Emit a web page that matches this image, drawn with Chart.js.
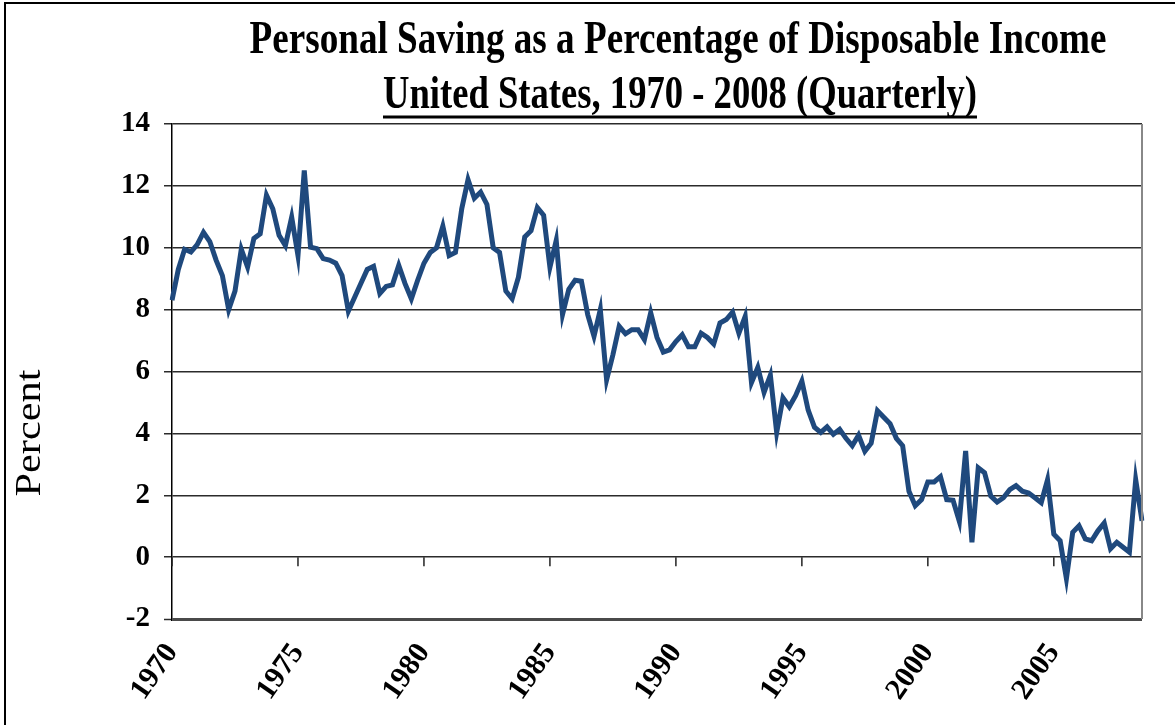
<!DOCTYPE html>
<html lang="en">
<head>
  <meta charset="UTF-8">
  <title>Personal Saving as a Percentage of Disposable Income</title>
  <style>
    body {
      margin: 0;
      padding: 0;
      background: #ffffff;
    }
    #wrap {
      width: 1175px;
      height: 725px;
    }
  </style>
  <script src="https://cdn.jsdelivr.net/npm/chart.js"></script>
</head>
<body>
  <div id="wrap">
    <canvas id="savingChart" width="1175" height="725"></canvas>
  </div>
  <script>
    // Personal saving rate, % of disposable income, 1970 Q1 - 2008 Q3
    const savingRate = [
      8.3, 9.3, 9.95, 9.86, 10.1, 10.5, 10.2, 9.6, 9.1, 8.0,
      8.6, 9.95, 9.38, 10.3, 10.45, 11.7, 11.26, 10.4, 10.07, 10.99,
      9.75, 12.5, 10.02, 9.97, 9.65, 9.6, 9.5, 9.1, 7.95, 8.4,
      8.85, 9.3, 9.4, 8.52, 8.75, 8.8, 9.43, 8.84, 8.35, 8.95,
      9.5, 9.85, 10.0, 10.7, 9.75, 9.85, 11.26, 12.2, 11.6, 11.8,
      11.4, 10.0, 9.85, 8.6, 8.35, 9.05, 10.35, 10.55, 11.3, 11.05,
      9.37, 10.24, 7.84, 8.66, 8.95, 8.92, 7.84, 7.14, 8.0, 5.73,
      6.54, 7.46, 7.22, 7.35, 7.35, 7.03, 7.9, 7.1, 6.63, 6.7,
      6.97, 7.19, 6.8, 6.8, 7.24, 7.1, 6.89, 7.57, 7.68, 7.92,
      7.24, 7.78, 5.64, 6.13, 5.33, 5.88, 4.03, 5.15, 4.86, 5.22,
      5.69, 4.75, 4.2, 4.03, 4.21, 3.97, 4.13, 3.84, 3.6, 3.94,
      3.42, 3.68, 4.73, 4.52, 4.31, 3.84, 3.6, 2.13, 1.66, 1.86,
      2.43, 2.43, 2.6, 1.86, 1.84, 1.16, 3.43, 0.48, 2.89, 2.73,
      1.97, 1.78, 1.92, 2.18, 2.31, 2.13, 2.07, 1.92, 1.76, 2.5,
      0.74, 0.53, -0.69, 0.8, 1.01, 0.59, 0.53, 0.85, 1.1, 0.27,
      0.48, 0.32, 0.16, 2.5, 1.17
    ];

    const tickYears = ['1970', '1975', '1980', '1985', '1990', '1995', '2000', '2005'];
    const yTicks = [-2, 0, 2, 4, 6, 8, 10, 12, 14];

    // quarter categories, one per value
    const quarters = [];
    for (let y = 1970; y <= 2008; y++) {
      for (let q = 1; q <= 4; q++) quarters.push(y + ' Q' + q);
    }
    const labels = quarters.slice(0, savingRate.length);

    const titleLine1 = 'Personal Saving as a Percentage of Disposable Income';
    const titleLine2 = 'United States, 1970 - 2008 (Quarterly)';
    const yTitle = 'Percent';

    // draws stretched text so that it spans a given width and cap height
    function stretchedText(ctx, text, font, cx, baseline, width, capH) {
      ctx.save();
      ctx.font = font;
      const w = ctx.measureText(text).width;
      const size = parseFloat(font.match(/(\d+)px/)[1]);
      ctx.translate(cx, baseline);
      ctx.scale(width / w, capH / (size * 0.66));
      ctx.textAlign = 'center';
      ctx.textBaseline = 'alphabetic';
      ctx.fillStyle = '#000';
      ctx.fillText(text, 0, 0);
      ctx.restore();
    }

    const decor = {
      id: 'decor',
      beforeDraw(chart) {
        const ctx = chart.ctx;
        ctx.save();
        ctx.fillStyle = '#fff';
        ctx.fillRect(0, 0, chart.width, chart.height);
        // outer frame (top and left edges)
        ctx.strokeStyle = '#000';
        ctx.lineWidth = 2;
        ctx.beginPath();
        ctx.moveTo(5, chart.height);
        ctx.lineTo(5, 3);
        ctx.lineTo(chart.width, 3);
        ctx.stroke();
        ctx.restore();
      },
      afterDraw(chart) {
        const ctx = chart.ctx;
        const area = chart.chartArea;
        const x = chart.scales.x;
        const y = chart.scales.y;

        stretchedText(ctx, titleLine1, 'bold 32px "Liberation Serif"', 678, 53, 857, 31);
        stretchedText(ctx, titleLine2, 'bold 32px "Liberation Serif"', 680, 108, 594, 30);
        ctx.save();
        ctx.strokeStyle = '#000';
        ctx.lineWidth = 3;
        ctx.beginPath();
        ctx.moveTo(383, 117);
        ctx.lineTo(977, 117);
        ctx.stroke();
        ctx.restore();

        // rotated axis title
        ctx.save();
        ctx.font = '30px "Liberation Serif"';
        const pw = ctx.measureText(yTitle).width;
        ctx.translate(40, 433);
        ctx.rotate(-Math.PI / 2);
        ctx.scale(127 / pw, 23 / (30 * 0.66));
        ctx.textAlign = 'center';
        ctx.fillStyle = '#000';
        ctx.fillText(yTitle, 0, 0);
        ctx.restore();

        // right border of the plot
        ctx.save();
        ctx.strokeStyle = '#888';
        ctx.lineWidth = 2;
        ctx.beginPath();
        ctx.moveTo(area.right, area.top);
        ctx.lineTo(area.right, area.bottom);
        ctx.stroke();

        // category tick marks hanging from the zero line
        const y0 = y.getPixelForValue(0);
        ctx.strokeStyle = '#222';
        ctx.lineWidth = 1.5;
        labels.forEach((lab, i) => {
          if (tickYears.includes(lab.slice(0, 4)) && lab.endsWith('Q1')) {
            const px = x.getPixelForValue(i);
            ctx.beginPath();
            ctx.moveTo(px, y0);
            ctx.lineTo(px, y0 + 9);
            ctx.stroke();
          }
        });
        ctx.restore();
      }
    };

    new Chart(document.getElementById('savingChart'), {
      type: 'line',
      data: {
        labels: labels,
        datasets: [{
          label: 'Personal saving rate',
          data: savingRate,
          borderColor: '#1f497d',
          borderWidth: 5,
          pointRadius: 0,
          tension: 0,
          fill: false
        }]
      },
      options: {
        responsive: false,
        animation: false,
        devicePixelRatio: 1,
        layout: { padding: { left: 0, top: 124, right: 33, bottom: 0 } },
        plugins: {
          legend: { display: false },
          title: { display: false },
          tooltip: { enabled: false }
        },
        scales: {
          x: {
            type: 'category',
            offset: false,
            grid: { display: false },
            border: { display: false },
            ticks: {
              autoSkip: false,
              maxRotation: 55,
              minRotation: 55,
              padding: 10,
              color: '#000',
              font: { family: '"Liberation Serif"', size: 30, weight: 'bold' },
              callback: function (val, index) {
                const lab = labels[index];
                const yr = lab.slice(0, 4);
                return lab.endsWith('Q1') && tickYears.includes(yr) ? yr : null;
              }
            },
            afterFit: function (scale) { scale.height = 725 - 619; }
          },
          y: {
            min: -2,
            max: 14,
            afterBuildTicks: function (scale) {
              scale.ticks = yTicks.map(v => ({ value: v }));
            },
            grid: {
              color: c => (c.tick && c.tick.value === -2 ? '#4a4a4a' : '#2b2b2b'),
              lineWidth: c => (c.tick && c.tick.value === -2 ? 3 : 1.5),
              drawTicks: true,
              tickLength: 8,
              tickColor: '#2b2b2b',
              tickWidth: 1.5
            },
            border: { display: true, color: '#000', width: 1.5 },
            ticks: {
              padding: 14,
              color: '#000',
              font: { family: '"Liberation Serif"', size: 29, weight: 'bold' }
            },
            afterFit: function (scale) { scale.width = 172; }
          }
        }
      },
      plugins: [decor]
    });
  </script>
</body>
</html>
